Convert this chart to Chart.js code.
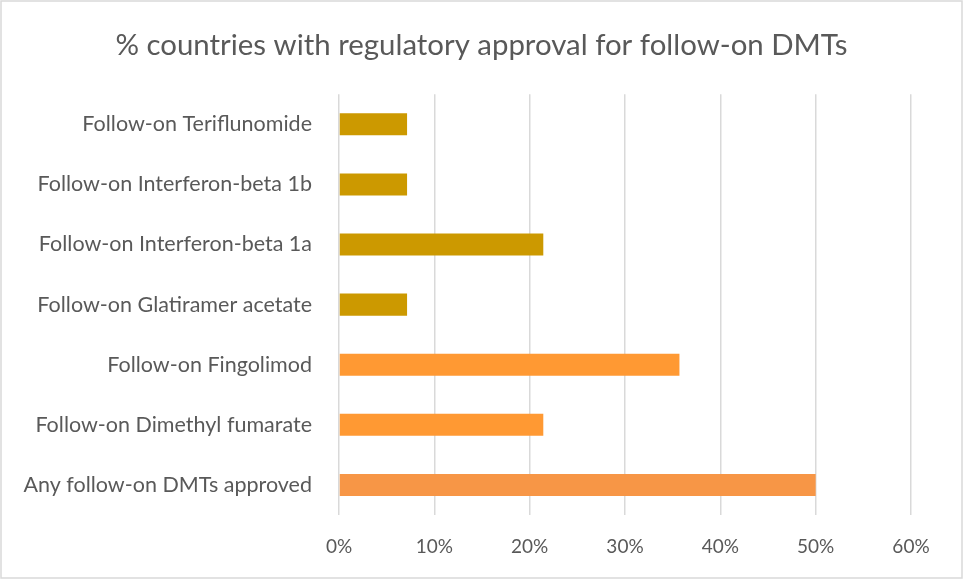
<!DOCTYPE html>
<html>
<head>
<meta charset="utf-8">
<script src="https://cdn.jsdelivr.net/npm/chart.js@4"></script>
<style>
html,body{margin:0;padding:0;background:#fff;}
#wrap{width:963px;height:579px;position:relative;}
</style>
</head>
<body>
<div id="wrap"><canvas id="c" width="963" height="579"></canvas></div>
<script>
const chartTitle = "% countries with regulatory approval for follow-on DMTs";
const categories = [
  "Follow-on Teriflunomide",
  "Follow-on Interferon-beta 1b",
  "Follow-on Interferon-beta 1a",
  "Follow-on Glatiramer acetate",
  "Follow-on Fingolimod",
  "Follow-on Dimethyl fumarate",
  "Any follow-on DMTs approved"
];
const values = [7.14, 7.14, 21.43, 7.14, 35.71, 21.43, 50];
const barColors = ["#CC9900", "#CC9900", "#CC9900", "#CC9900", "#FF9933", "#FF9933", "#F79646"];
const xTickValues = [0, 10, 20, 30, 40, 50, 60];

const FONT = "Lato, 'Liberation Sans', sans-serif";

const borderPlugin = {
  id: 'outerBorder',
  afterLayout(chart) {
    // centre the title across the full canvas width
    if (chart.titleBlock) {
      chart.titleBlock.left = 0;
      chart.titleBlock.right = chart.width;
      chart.titleBlock.width = chart.width;
    }
  },
  beforeDraw(chart) {
    const ctx = chart.ctx;
    ctx.save();
    ctx.fillStyle = '#fff';
    ctx.fillRect(0, 0, chart.width, chart.height);
    ctx.strokeStyle = '#D9D9D9';
    ctx.lineWidth = 1.5;
    ctx.strokeRect(1, 1, chart.width - 2, chart.height - 2);
    ctx.restore();
  }
};

new Chart(document.getElementById('c'), {
  type: 'bar',
  data: {
    labels: categories,
    datasets: [{
      data: values,
      backgroundColor: barColors,
      borderWidth: 0,
      categoryPercentage: 1,
      barPercentage: 0.367
    }]
  },
  options: {
    indexAxis: 'y',
    responsive: false,
    animation: false,
    devicePixelRatio: 1,
    layout: { padding: { left: 0, right: 52, top: 0, bottom: 0 } },
    plugins: {
      legend: { display: false },
      tooltip: { enabled: false },
      title: {
        display: true,
        text: chartTitle,
        color: '#595959',
        font: { family: FONT, size: 29.4, weight: 'normal', lineHeight: 1.2 },
        padding: { top: 28, bottom: 31 }
      }
    },
    scales: {
      x: {
        min: 0,
        max: 60,
        afterBuildTicks(scale) { scale.ticks = xTickValues.map(v => ({ value: v })); },
        afterFit(scale) { scale.height = 579 - 515; },
        grid: { color: '#D9D9D9', lineWidth: 1.5, drawTicks: false },
        border: { display: false },
        ticks: {
          color: '#595959',
          padding: 20,
          font: { family: FONT, size: 19 },
          callback: v => v + '%'
        }
      },
      y: {
        afterFit(scale) { scale.width = 339; },
        grid: { display: false, drawTicks: false },
        border: { display: false },
        ticks: {
          color: '#595959',
          padding: 27,
          font: { family: FONT, size: 21.5 }
        }
      }
    }
  },
  plugins: [borderPlugin]
});
</script>
</body>
</html>
